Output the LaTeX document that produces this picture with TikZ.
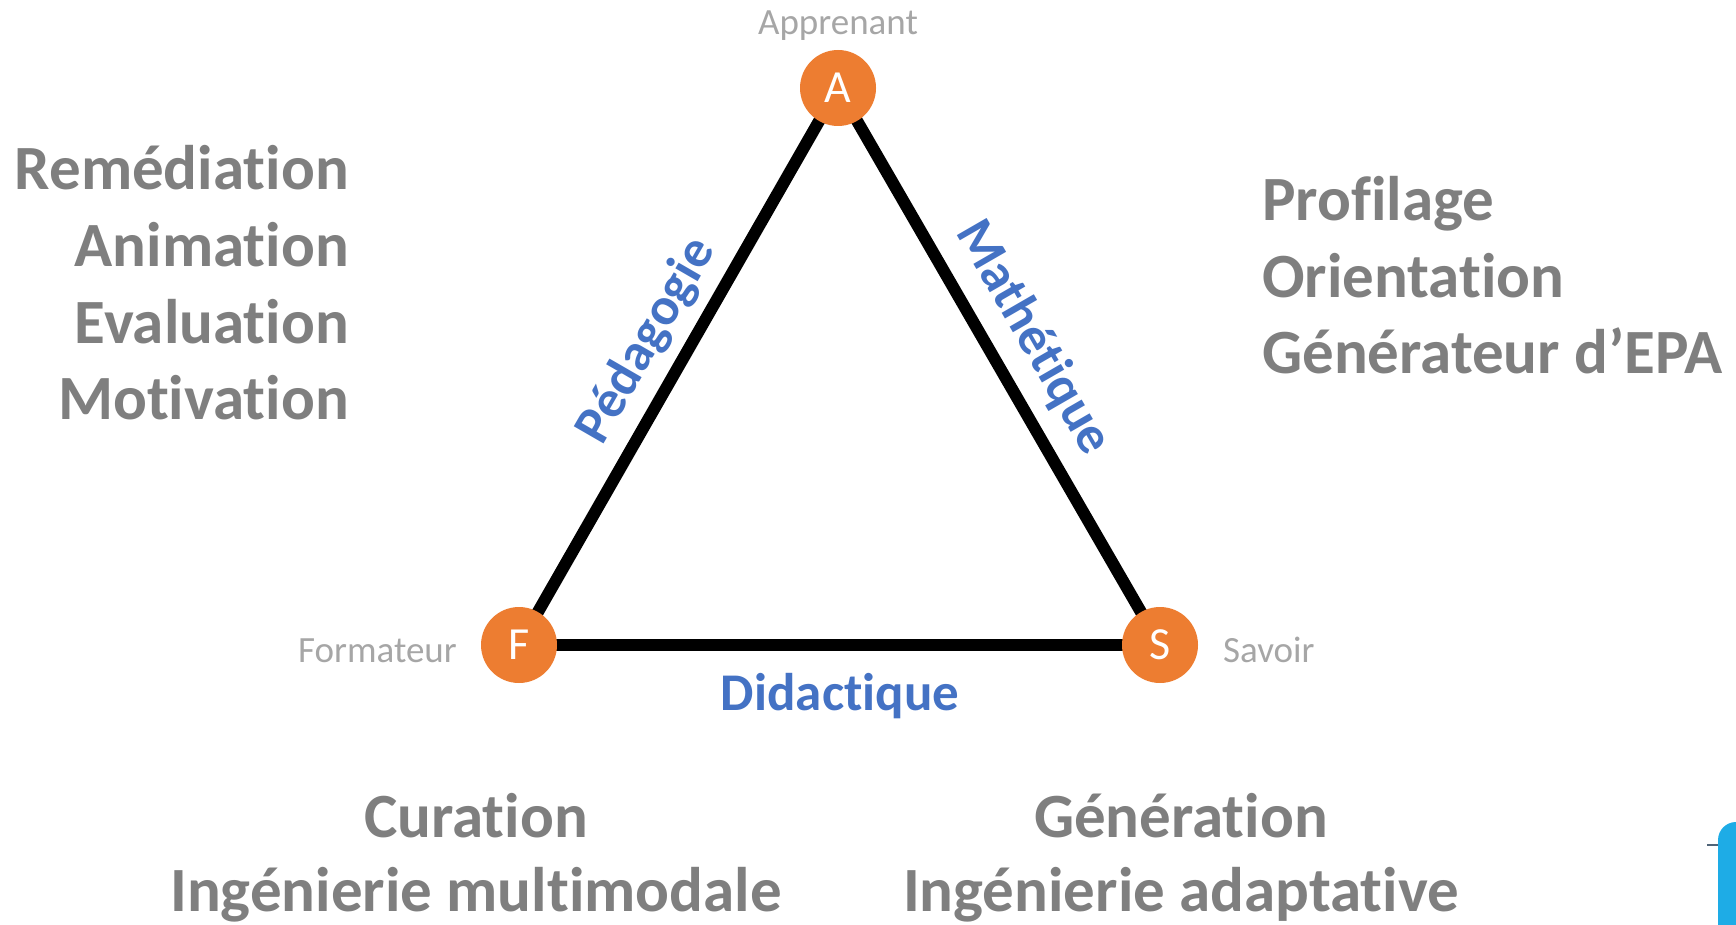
\documentclass[tikz,border=0pt]{standalone}
\usepackage{fontspec}
\setmainfont[Ligatures={NoCommon,NoContextual,NoRequired},Contextuals=NoAlternate]{Carlito}
\usetikzlibrary{backgrounds}
\newcommand\lgbrk{\kern0pt }
\definecolor{orng}{HTML}{ED7D31}
\definecolor{txtgray}{HTML}{7F7F7F}
\definecolor{lblgray}{HTML}{A6A6A6}
\definecolor{edgeblue}{HTML}{4472C4}
\definecolor{logoblue}{RGB}{30,172,230}
\definecolor{dashgray}{RGB}{80,100,120}
\begin{document}
\begin{tikzpicture}[x=1pt,y=-1pt,
  vertex/.style={circle,fill=orng,minimum size=76pt,inner sep=0pt,text=white,font=\fontsize{46}{50}\selectfont},
  role/.style={text=lblgray,font=\fontsize{37}{44}\selectfont,inner sep=0pt},
  task/.style={text=txtgray,font=\bfseries\fontsize{63}{76}\selectfont,inner sep=0pt},
  side/.style={text=edgeblue,font=\bfseries\fontsize{53}{60}\selectfont,inner sep=0pt},
  edge/.style={line width=12pt,black}]
\useasboundingbox (0,0) rectangle (1736,925);
% vertices
\node[vertex] (A) at (838,88) {A};
\node[vertex] (F) at (519,645) {F};
\node[vertex] (S) at (1160,645) {S};
\begin{scope}[on background layer]
  \draw[edge] (A.center) -- (F.center);
  \draw[edge] (F.center) -- (S.center);
  \draw[edge] (S.center) -- (A.center);
\end{scope}
% role labels
\node[role,anchor=base] (ap) at (838,35) {Apprenant};
\node[role,anchor=base east] (fo) at (457,662) {Formateur};
\node[role,anchor=base west] (sa) at (1223,662) {Savoir};
% side labels
\node[side,anchor=base] (di) at (840,710) {Didact\lgbrk ique};
\node[side,rotate=60] (pe) at (647,341) {Pédagogie};
\node[side,rotate=-60] (ma) at (1033,338) {Mathét\lgbrk ique};
% left tasks
\node[task,anchor=base east] (l1) at (349,190) {Remédiat\lgbrk ion};
\node[task,anchor=base east] (l2) at (349,266) {Animat\lgbrk ion};
\node[task,anchor=base east] (l3) at (349,343) {Evaluat\lgbrk ion};
\node[task,anchor=base east] (l4) at (349,419) {Mot\lgbrk ivat\lgbrk ion};
% right tasks
\node[task,anchor=base west] (r1) at (1262,221) {Prof\lgbrk ilage};
\node[task,anchor=base west] (r2) at (1262,297) {Orientat\lgbrk ion};
\node[task,anchor=base west] (r3) at (1262,373) {Générateur d’EPA};
% bottom tasks
\node[task,anchor=base] (b1) at (476,837) {Curat\lgbrk ion};
\node[task,anchor=base] (b2) at (476,911) {Ingénierie mult\lgbrk imodale};
\node[task,anchor=base] (b3) at (1181,837) {Générat\lgbrk ion};
\node[task,anchor=base] (b4) at (1181,911) {Ingénierie adaptat\lgbrk ive};
% logo fragment
\fill[logoblue,rounded corners=18pt] (1718,980) -- (1718,822) -- (1780,822) -- (1780,980) -- cycle;
\draw[dashgray,line width=1.5pt] (1707,845) -- (1718,845);
\end{tikzpicture}
\end{document}
